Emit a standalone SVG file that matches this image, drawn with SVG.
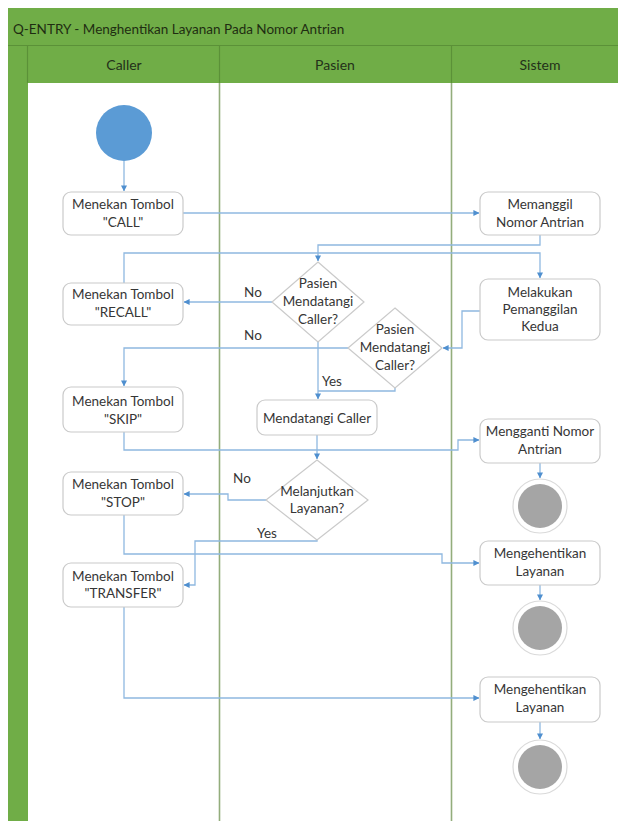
<svg xmlns="http://www.w3.org/2000/svg" width="618" height="821" viewBox="0 0 618 821">
  <defs>
    <style>
      .frame { fill: #70ad47; }
      .rule { stroke: #5b9138; stroke-width: 1.2; fill: none; }
      .lane { stroke: #93ad7c; stroke-width: 1.6; fill: none; }
      .title { font-family: Lato, "Liberation Sans", sans-serif; font-size: 13.5px; fill: #1f2d12; }
      .head { font-family: Lato, "Liberation Sans", sans-serif; font-size: 14px; fill: #23311a; text-anchor: middle; }
      .box { fill: #ffffff; stroke: #cacaca; stroke-width: 1.2; }
      .txt { font-family: Lato, "Liberation Sans", sans-serif; font-size: 13.5px; fill: #363636; text-anchor: middle; }
      .lbl { font-family: Lato, "Liberation Sans", sans-serif; font-size: 13.5px; fill: #363636; text-anchor: middle; }
      .edge { fill: none; stroke: #8fb8e0; stroke-width: 1.3; }
      .start { fill: #5b9bd5; }
      .endring { fill: #ffffff; stroke: #dadada; stroke-width: 1.2; }
      .endcore { fill: #a5a5a5; }
    </style>
    <marker id="arrow" viewBox="0 0 8 8" refX="7.5" refY="4" markerWidth="6" markerHeight="6" markerUnits="userSpaceOnUse" orient="auto">
      <path d="M0,0 L8,4 L0,8 z" fill="#4f8fcf"/>
    </marker>
  </defs>

  <!-- pool frame -->
  <g id="pool">
    <rect x="8" y="8" width="610" height="813" class="frame"/>
    <rect x="28" y="83" width="590" height="738" fill="#ffffff"/>
    <line x1="8" y1="45.5" x2="618" y2="45.5" class="rule"/>
    <line x1="27.5" y1="45" x2="27.5" y2="83" class="rule"/>
    <line x1="219.5" y1="45" x2="219.5" y2="83" class="rule"/>
    <line x1="451.5" y1="45" x2="451.5" y2="83" class="rule"/>
    <line x1="219.5" y1="83" x2="219.5" y2="821" class="lane"/>
    <line x1="451.5" y1="83" x2="451.5" y2="821" class="lane"/>
    <text x="13" y="34" class="title">Q-ENTRY - Menghentikan Layanan Pada Nomor Antrian</text>
    <text x="124" y="70" class="head">Caller</text>
    <text x="335" y="70" class="head">Pasien</text>
    <text x="540" y="70" class="head">Sistem</text>
  </g>

  <!-- connectors -->
  <g id="connectors">
    <path class="edge" d="M124,161 V191" marker-end="url(#arrow)"/>
    <path class="edge" d="M183,213 H479" marker-end="url(#arrow)"/>
    <path class="edge" d="M540,235 V245 H318 V261" marker-end="url(#arrow)"/>
    <path class="edge" d="M124,283 V253 H540 V278" marker-end="url(#arrow)"/>
    <path class="edge" d="M272,302 H184" marker-end="url(#arrow)"/>
    <path class="edge" d="M480,311 H462 V348 H443" marker-end="url(#arrow)"/>
    <path class="edge" d="M348,348 H124 V386" marker-end="url(#arrow)"/>
    <path class="edge" d="M318,342 V399" marker-end="url(#arrow)"/>
    <path class="edge" d="M395,388 V391 H318"/>
    <path class="edge" d="M317,435 V459" marker-end="url(#arrow)"/>
    <path class="edge" d="M124,432 V450 H458 V440 H479" marker-end="url(#arrow)"/>
    <path class="edge" d="M266,500 H228 V494 H184" marker-end="url(#arrow)"/>
    <path class="edge" d="M317,540 V541 H195 V585 H184" marker-end="url(#arrow)"/>
    <path class="edge" d="M124,515 V554 H442 V563 H479" marker-end="url(#arrow)"/>
    <path class="edge" d="M124,607 V698 H479" marker-end="url(#arrow)"/>
    <path class="edge" d="M540,463 V478" marker-end="url(#arrow)"/>
    <path class="edge" d="M540,585 V600" marker-end="url(#arrow)"/>
    <path class="edge" d="M540,722 V739" marker-end="url(#arrow)"/>
    <text x="253" y="297" class="lbl">No</text>
    <text x="253" y="340" class="lbl">No</text>
    <text x="332" y="386" class="lbl">Yes</text>
    <text x="242" y="483" class="lbl">No</text>
    <text x="267" y="538" class="lbl">Yes</text>
  </g>

  <!-- Caller lane -->
  <g id="start">
    <circle cx="124" cy="133" r="28" class="start"/>
  </g>
  <g id="call">
    <rect x="63" y="192" width="120" height="43" rx="8" class="box"/>
    <text x="123" y="209" class="txt">Menekan Tombol</text>
    <text x="123" y="227" class="txt">"CALL"</text>
  </g>
  <g id="recall">
    <rect x="63" y="283" width="120" height="42" rx="8" class="box"/>
    <text x="123" y="299" class="txt">Menekan Tombol</text>
    <text x="123" y="317" class="txt">"RECALL"</text>
  </g>
  <g id="skip">
    <rect x="63" y="387" width="120" height="45" rx="8" class="box"/>
    <text x="123" y="406" class="txt">Menekan Tombol</text>
    <text x="123" y="424" class="txt">"SKIP"</text>
  </g>
  <g id="stop">
    <rect x="63" y="472" width="120" height="43" rx="8" class="box"/>
    <text x="123" y="489" class="txt">Menekan Tombol</text>
    <text x="123" y="507" class="txt">"STOP"</text>
  </g>
  <g id="transfer">
    <rect x="63" y="563" width="120" height="44" rx="8" class="box"/>
    <text x="123" y="581" class="txt">Menekan Tombol</text>
    <text x="123" y="598" class="txt">"TRANSFER"</text>
  </g>

  <!-- Pasien lane -->
  <g id="decision-datang-1">
    <polygon points="318,262 364,302 318,342 272,302" class="box"/>
    <text x="318" y="288" class="txt">Pasien</text>
    <text x="318" y="306" class="txt">Mendatangi</text>
    <text x="318" y="324" class="txt">Caller?</text>
  </g>
  <g id="decision-datang-2">
    <polygon points="395,308 442,348 395,388 348,348" class="box"/>
    <text x="395" y="334" class="txt">Pasien</text>
    <text x="395" y="352" class="txt">Mendatangi</text>
    <text x="395" y="370" class="txt">Caller?</text>
  </g>
  <g id="mendatangi">
    <rect x="257" y="400" width="120" height="35" rx="8" class="box"/>
    <text x="317" y="423" class="txt">Mendatangi Caller</text>
  </g>
  <g id="decision-lanjut">
    <polygon points="317,460 368,500 317,540 266,500" class="box"/>
    <text x="317" y="496" class="txt">Melanjutkan</text>
    <text x="317" y="513" class="txt">Layanan?</text>
  </g>

  <!-- Sistem lane -->
  <g id="memanggil">
    <rect x="480" y="192" width="120" height="43" rx="8" class="box"/>
    <text x="540" y="209" class="txt">Memanggil</text>
    <text x="540" y="227" class="txt">Nomor Antrian</text>
  </g>
  <g id="pemanggilan-kedua">
    <rect x="480" y="279" width="120" height="61" rx="8" class="box"/>
    <text x="540" y="297" class="txt">Melakukan</text>
    <text x="540" y="314" class="txt">Pemanggilan</text>
    <text x="540" y="331" class="txt">Kedua</text>
  </g>
  <g id="mengganti">
    <rect x="480" y="419" width="120" height="44" rx="8" class="box"/>
    <text x="540" y="436" class="txt">Mengganti Nomor</text>
    <text x="540" y="454" class="txt">Antrian</text>
  </g>
  <g id="end-1">
    <circle cx="540" cy="506" r="27" class="endring"/>
    <circle cx="540" cy="506" r="22" class="endcore"/>
  </g>
  <g id="hentikan-1">
    <rect x="480" y="541" width="120" height="44" rx="8" class="box"/>
    <text x="540" y="558" class="txt">Mengehentikan</text>
    <text x="540" y="576" class="txt">Layanan</text>
  </g>
  <g id="end-2">
    <circle cx="540" cy="628" r="27" class="endring"/>
    <circle cx="540" cy="628" r="22" class="endcore"/>
  </g>
  <g id="hentikan-2">
    <rect x="480" y="677" width="120" height="45" rx="8" class="box"/>
    <text x="540" y="694" class="txt">Mengehentikan</text>
    <text x="540" y="712" class="txt">Layanan</text>
  </g>
  <g id="end-3">
    <circle cx="540" cy="767" r="27" class="endring"/>
    <circle cx="540" cy="767" r="22" class="endcore"/>
  </g>
</svg>
